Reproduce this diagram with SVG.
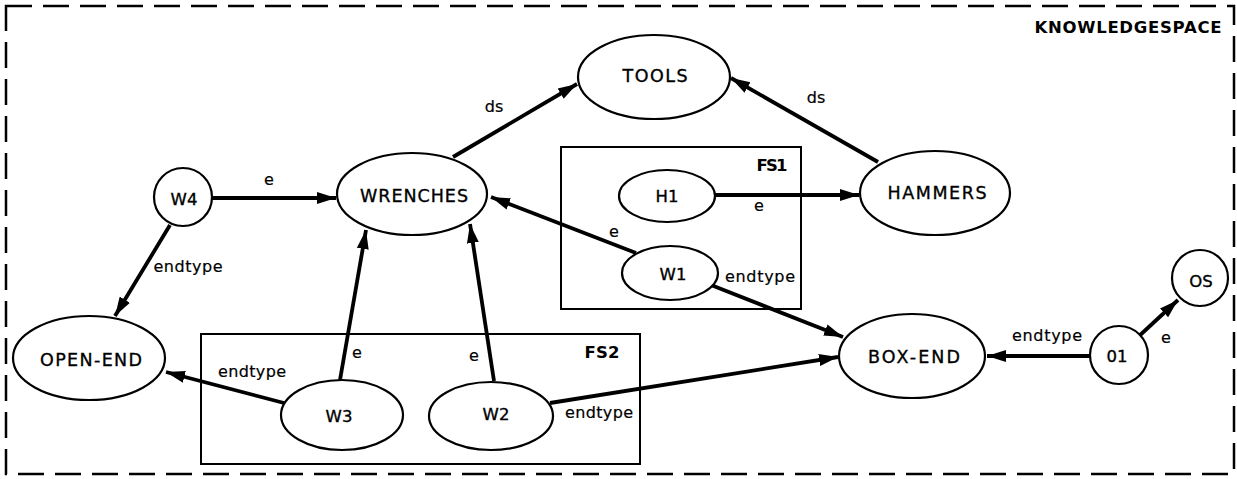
<svg xmlns="http://www.w3.org/2000/svg" width="1237" height="479" viewBox="0 0 1237 479">
<style>
.bg{fill:#fff}
.border{fill:none;stroke:#000;stroke-width:2.5;stroke-dasharray:26 11}
.node{fill:#fff;stroke:#000;stroke-width:2.2}
.box{fill:none;stroke:#000;stroke-width:2}
.edge{fill:none;stroke:#000;stroke-width:3.8}
.nl{font-family:"DejaVu Sans","Liberation Sans",sans-serif;font-size:17.5px;fill:#000;stroke:#000;stroke-width:0.35;text-anchor:middle}
.sl{font-family:"DejaVu Sans","Liberation Sans",sans-serif;font-size:16.5px;fill:#000;stroke:#000;stroke-width:0.35;text-anchor:middle}
.el{font-family:"DejaVu Sans","Liberation Sans",sans-serif;font-size:16px;fill:#000;stroke:#000;stroke-width:0.2;text-anchor:middle}
.bl{font-family:"DejaVu Sans","Liberation Sans",sans-serif;font-size:16.5px;font-weight:bold;fill:#000;text-anchor:middle}
</style>
<defs>
<marker id="ah" markerUnits="userSpaceOnUse" markerWidth="22" markerHeight="14" refX="19" refY="7" orient="auto">
<path d="M0,1 L19,7 L0,13 z" fill="#000"/>
</marker>
</defs>
<rect class="bg" x="0" y="0" width="1237" height="479"/>
<rect class="border" x="6" y="6" width="1228" height="468"/>
<text class="bl" x="1128" y="33" textLength="187" lengthAdjust="spacing">KNOWLEDGESPACE</text>

<g id="fs1"><rect class="box" x="561" y="147" width="240" height="162"/><text class="bl" x="772" y="171" textLength="31" lengthAdjust="spacing">FS1</text></g>
<g id="fs2"><rect class="box" x="201" y="334" width="439" height="130"/><text class="bl" x="602" y="358" textLength="35" lengthAdjust="spacing">FS2</text></g>

<g id="connectors">
<path class="edge" d="M453,157 L577,84" marker-end="url(#ah)"/>
<path class="edge" d="M878,162 L731,78" marker-end="url(#ah)"/>
<path class="edge" d="M212,198 L336,198" marker-end="url(#ah)"/>
<path class="edge" d="M170,225 L115,316" marker-end="url(#ah)"/>
<path class="edge" d="M715,195 L859,195" marker-end="url(#ah)"/>
<path class="edge" d="M636,253 L491,197" marker-end="url(#ah)"/>
<path class="edge" d="M711,285 L843,337" marker-end="url(#ah)"/>
<path class="edge" d="M284,403 L166,372" marker-end="url(#ah)"/>
<path class="edge" d="M340,380 L366,230" marker-end="url(#ah)"/>
<path class="edge" d="M494,381 L470,224" marker-end="url(#ah)"/>
<path class="edge" d="M550,403 L838,357" marker-end="url(#ah)"/>
<path class="edge" d="M1090,356 L987,356" marker-end="url(#ah)"/>
<path class="edge" d="M1138,337 L1178,300" marker-end="url(#ah)"/>
<text class="el" x="494" y="112">ds</text>
<text class="el" x="816" y="103">ds</text>
<text class="el" x="269" y="185">e</text>
<text class="el" x="188" y="272" textLength="69" lengthAdjust="spacing">endtype</text>
<text class="el" x="759" y="211">e</text>
<text class="el" x="614" y="237">e</text>
<text class="el" x="760" y="282" textLength="70" lengthAdjust="spacing">endtype</text>
<text class="el" x="252" y="377" textLength="68" lengthAdjust="spacing">endtype</text>
<text class="el" x="357" y="358">e</text>
<text class="el" x="474" y="361">e</text>
<text class="el" x="599" y="418" textLength="68" lengthAdjust="spacing">endtype</text>
<text class="el" x="1047" y="341" textLength="70" lengthAdjust="spacing">endtype</text>
<text class="el" x="1166" y="343">e</text>
</g>

<g id="tools"><ellipse class="node" cx="654" cy="77" rx="76" ry="42"/><text class="nl" x="655" y="82" textLength="65" lengthAdjust="spacing">TOOLS</text></g>
<g id="wrenches"><ellipse class="node" cx="412" cy="194" rx="75" ry="41"/><text class="nl" x="414" y="202" textLength="108" lengthAdjust="spacing">WRENCHES</text></g>
<g id="hammers"><ellipse class="node" cx="935" cy="193" rx="75" ry="42"/><text class="nl" x="937" y="199" textLength="99" lengthAdjust="spacing">HAMMERS</text></g>
<g id="w4"><circle class="node" cx="183" cy="197" r="29"/><text class="sl" x="184" y="205">W4</text></g>
<g id="h1"><ellipse class="node" cx="667" cy="196" rx="48" ry="26"/><text class="sl" x="667" y="202">H1</text></g>
<g id="w1"><ellipse class="node" cx="670" cy="273" rx="48" ry="27"/><text class="sl" x="673" y="280">W1</text></g>
<g id="open-end"><ellipse class="node" cx="89" cy="358" rx="76" ry="42"/><text class="nl" x="91" y="366" textLength="102" lengthAdjust="spacing">OPEN-END</text></g>
<g id="box-end"><ellipse class="node" cx="912" cy="356" rx="73" ry="42"/><text class="nl" x="914" y="363" textLength="92" lengthAdjust="spacing">BOX-END</text></g>
<g id="w3"><ellipse class="node" cx="342" cy="415" rx="61" ry="35"/><text class="sl" x="339" y="422">W3</text></g>
<g id="w2"><ellipse class="node" cx="491" cy="416" rx="62" ry="34"/><text class="sl" x="496" y="420">W2</text></g>
<g id="o1"><circle class="node" cx="1119" cy="355" r="29"/><text class="sl" x="1117" y="362">01</text></g>
<g id="os"><circle class="node" cx="1200" cy="278" r="28"/><text class="sl" x="1201" y="287">OS</text></g>
</svg>
